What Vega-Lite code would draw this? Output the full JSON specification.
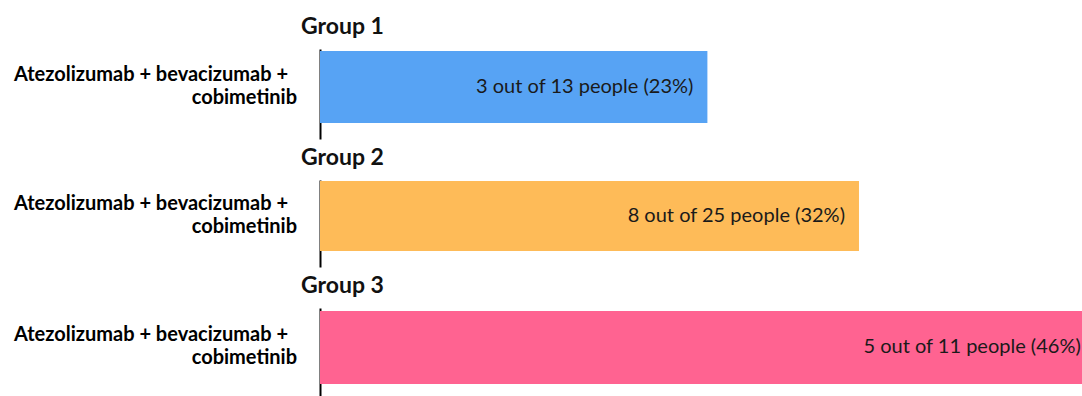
{
  "$schema": "https://vega.github.io/schema/vega-lite/v6.json",
  "background": "white",
  "padding": {"left": 13, "top": 16, "right": 0, "bottom": 0},
  "bounds": "flush",
  "spacing": 41,
  "data": {
    "values": [
      {"group": "Group 1", "line1": "Atezolizumab + bevacizumab +", "line2": "cobimetinib", "pct": 23, "text": "3 out of 13 people (23%)"},
      {"group": "Group 2", "line1": "Atezolizumab + bevacizumab +", "line2": "cobimetinib", "pct": 32, "text": "8 out of 25 people (32%)"},
      {"group": "Group 3", "line1": "Atezolizumab + bevacizumab +", "line2": "cobimetinib", "pct": 46, "text": "5 out of 11 people (46%)"}
    ]
  },
  "config": {
    "view": {"stroke": null},
    "font": "Lato",
    "title": {"font": "Lato", "fontSize": 23, "fontWeight": "bold", "anchor": "start", "frame": "group", "dx": -19, "offset": 10, "color": "#111111"},
    "axisY": {"domainColor": "#000000", "domainWidth": 2, "labels": false, "ticks": false, "title": null, "grid": false}
  },
  "vconcat": [
    {
      "title": {"text": "Group 1"},
      "width": 763, "height": 90,
      "transform": [{"filter": "datum.group === 'Group 1'"}],
      "encoding": {"y": {"field": "group", "type": "nominal", "scale": {"paddingInner": 0, "paddingOuter": 0.125, "align": 0.111}}},
      "layer": [
        {"mark": {"type": "bar", "color": "#57A3F4", "clip": true}, "encoding": {"x": {"field": "pct", "type": "quantitative", "scale": {"domain": [0, 45.3], "nice": false}, "axis": null}}},
        {"mark": {"type": "text", "align": "right", "dx": -14, "fontSize": 20, "color": "#1a1a1a"}, "encoding": {"x": {"field": "pct", "type": "quantitative"}, "text": {"field": "text"}}},
        {"mark": {"type": "text", "align": "right", "baseline": "alphabetic", "dx": -32, "dy": -6, "fontSize": 20, "fontWeight": "bold", "color": "#000000"}, "encoding": {"x": {"datum": 0}, "text": {"field": "line1"}}},
        {"mark": {"type": "text", "align": "right", "baseline": "alphabetic", "dx": -23, "dy": 17, "fontSize": 20, "fontWeight": "bold", "color": "#000000"}, "encoding": {"x": {"datum": 0}, "text": {"field": "line2"}}}
      ]
    },
    {
      "title": {"text": "Group 2"},
      "width": 763, "height": 87,
      "transform": [{"filter": "datum.group === 'Group 2'"}],
      "encoding": {"y": {"field": "group", "type": "nominal", "scale": {"paddingInner": 0, "paddingOuter": 0.121, "align": 0.059}}},
      "layer": [
        {"mark": {"type": "bar", "color": "#FEBB58", "clip": true}, "encoding": {"x": {"field": "pct", "type": "quantitative", "scale": {"domain": [0, 45.3], "nice": false}, "axis": null}}},
        {"mark": {"type": "text", "align": "right", "dx": -14, "fontSize": 20, "color": "#1a1a1a"}, "encoding": {"x": {"field": "pct", "type": "quantitative"}, "text": {"field": "text"}}},
        {"mark": {"type": "text", "align": "right", "baseline": "alphabetic", "dx": -32, "dy": -6, "fontSize": 20, "fontWeight": "bold", "color": "#000000"}, "encoding": {"x": {"datum": 0}, "text": {"field": "line1"}}},
        {"mark": {"type": "text", "align": "right", "baseline": "alphabetic", "dx": -23, "dy": 17, "fontSize": 20, "fontWeight": "bold", "color": "#000000"}, "encoding": {"x": {"datum": 0}, "text": {"field": "line2"}}}
      ]
    },
    {
      "title": {"text": "Group 3"},
      "width": 763, "height": 89,
      "transform": [{"filter": "datum.group === 'Group 3'"}],
      "encoding": {"y": {"field": "group", "type": "nominal", "scale": {"paddingInner": 0, "paddingOuter": 0.11, "align": 0.1875}}},
      "layer": [
        {"mark": {"type": "bar", "color": "#FF6391", "clip": true}, "encoding": {"x": {"field": "pct", "type": "quantitative", "scale": {"domain": [0, 45.3], "nice": false}, "axis": null}}},
        {"mark": {"type": "text", "align": "right", "dx": -14, "fontSize": 20, "color": "#1a1a1a"}, "encoding": {"x": {"field": "pct", "type": "quantitative"}, "text": {"field": "text"}}},
        {"mark": {"type": "text", "align": "right", "baseline": "alphabetic", "dx": -32, "dy": -6, "fontSize": 20, "fontWeight": "bold", "color": "#000000"}, "encoding": {"x": {"datum": 0}, "text": {"field": "line1"}}},
        {"mark": {"type": "text", "align": "right", "baseline": "alphabetic", "dx": -23, "dy": 17, "fontSize": 20, "fontWeight": "bold", "color": "#000000"}, "encoding": {"x": {"datum": 0}, "text": {"field": "line2"}}}
      ]
    }
  ]
}
